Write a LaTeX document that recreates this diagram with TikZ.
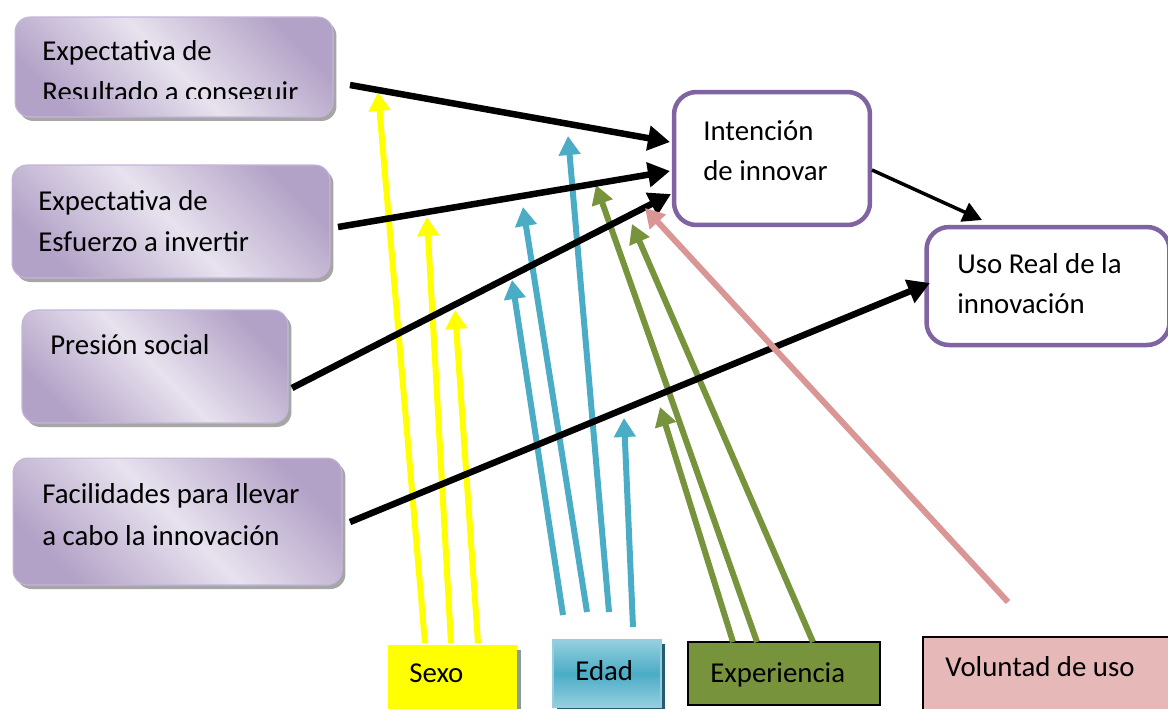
\documentclass[tikz,border=0pt]{standalone}
\usepackage{fontspec}
\setmainfont{Carlito}
\usetikzlibrary{arrows.meta,shadows}
\definecolor{lilaosc}{HTML}{B3A2C7}
\definecolor{lilacla}{HTML}{E7E2EE}
\definecolor{lilaborde}{HTML}{C3B6D8}
\definecolor{morado}{HTML}{8064A2}
\definecolor{azul}{HTML}{4BACC6}
\definecolor{azulcla}{HTML}{95CFDF}
\definecolor{azulosc}{HTML}{245E6E}
\definecolor{verde}{HTML}{77933C}
\definecolor{rosa}{HTML}{D99694}
\definecolor{rosacla}{HTML}{E6B9B8}
\definecolor{amarillo}{HTML}{FFFF00}
\begin{document}
\begin{tikzpicture}[x=0.02cm, y=0.02cm]
\tikzstyle{every node}+=[inner sep=0pt, font=\fontsize{16.4}{20}\selectfont]
\tikzstyle{lilabox}=[rounded corners=0.3cm, draw=lilaborde, line width=0.6pt,
  top color=lilaosc, bottom color=lilaosc, middle color=lilacla, shading angle=-45,
  drop shadow={shadow xshift=0.07cm, shadow yshift=-0.08cm, fill=black!35, opacity=1}]
\tikzstyle{mainbox}=[rounded corners=0.45cm, draw=morado, line width=0.09cm, fill=white]
\tikzstyle{txt}=[anchor=base west]
\tikzstyle{negra}=[line width=0.13cm, -{Triangle[length=0.44cm,width=0.48cm]}]
\tikzstyle{mod}=[line width=0.12cm, -{Triangle[length=0.38cm,width=0.42cm]}]
\useasboundingbox (0,0) rectangle (1168,-708);

% cajas de la izquierda
\node [lilabox, minimum width=6.36cm, minimum height=2.0cm] (res) at (174,-67) {};
\node [lilabox, minimum width=6.36cm, minimum height=2.26cm] (esf) at (171,-221.5) {};
\node [lilabox, minimum width=5.32cm, minimum height=2.26cm] (pre) at (155,-366.5) {};
\node [lilabox, minimum width=6.58cm, minimum height=2.54cm] (fac) at (177.5,-521.5) {};
\begin{scope}
\clip (15,-17) rectangle (333,-98);
\node [txt] (res1) at (42,-60) {Expectativa de};
\node [txt] (res2) at (42,-101) {Resultado a conseguir};
\end{scope}
\node [txt] (esf1) at (38,-210) {Expectativa de};
\node [txt] (esf2) at (38,-251) {Esfuerzo a invertir};
\node [txt] (pre1) at (50,-354) {Presión social};
\node [txt] (fac1) at (42,-503) {Facilidades para llevar};
\node [txt] (fac2) at (42,-545) {a cabo la innovación};

% cajas de la derecha
\node [mainbox, minimum width=3.92cm, minimum height=2.66cm] (int) at (772,-158.5) {};
\node [txt] (int1) at (703,-140) {Intención};
\node [txt] (int2) at (703,-180) {de innovar};
\node [mainbox, minimum width=4.86cm, minimum height=2.36cm] (uso) at (1048,-286) {};
\node [txt] (uso1) at (957,-273) {Uso Real de la};
\node [txt] (uso2) at (957,-313) {innovación};

% moderadores
\node [fill=amarillo, minimum width=2.58cm, minimum height=1.4cm,
  drop shadow={shadow xshift=0.08cm, shadow yshift=-0.1cm, fill=azulosc!45!gray!70, opacity=1}]
  (sexo) at (452.5,-680) {};
\node [draw=azulcla, line width=0.8pt, top color=azulcla, bottom color=azulcla, middle color=azul,
  minimum width=2.16cm, minimum height=1.34cm,
  drop shadow={shadow xshift=0.08cm, shadow yshift=-0.08cm, fill=azulosc, opacity=1}]
  (edad) at (607,-673.5) {};
\node [draw=black, line width=0.04cm, fill=verde, minimum width=3.84cm, minimum height=1.26cm]
  (exp) at (784,-673.5) {};
\node [draw=black, line width=0.04cm, fill=rosacla, minimum width=5.04cm, minimum height=1.6cm]
  (vol) at (1049,-677) {};
\node [txt] (sexo1) at (409,-682) {Sexo};
\node [txt] (edad1) at (575,-680) {Edad};
\node [txt] (exp1) at (710,-682) {Experiencia};
\node [txt] (vol1) at (945,-676) {Voluntad de uso};

% extremos de las flechas
\coordinate (y1) at (425,-643); \coordinate (y1t) at (378,-92);
\coordinate (y2) at (451,-643); \coordinate (y2t) at (427,-217);
\coordinate (y3) at (478,-643); \coordinate (y3t) at (455,-310);
\coordinate (b1) at (563,-615); \coordinate (b1t) at (512,-280);
\coordinate (b2) at (587,-612); \coordinate (b2t) at (523,-207);
\coordinate (b3) at (609,-612); \coordinate (b3t) at (568,-136);
\coordinate (b4) at (633,-627); \coordinate (b4t) at (624,-418);
\coordinate (g1) at (733,-642); \coordinate (g1t) at (660,-407);
\coordinate (g2) at (757,-642); \coordinate (g2t) at (596,-185);
\coordinate (g3) at (813,-642); \coordinate (g3t) at (632,-224);
\coordinate (p1) at (1008,-602); \coordinate (p1t) at (645,-208);
\coordinate (a1) at (350,-85); \coordinate (a1t) at (670,-142);
\coordinate (a2) at (338,-227); \coordinate (a2t) at (670,-171);
\coordinate (a3) at (292,-388); \coordinate (a3t) at (671,-194);
\coordinate (a4) at (350,-522); \coordinate (a4t) at (930,-283);
\coordinate (a5) at (872,-170); \coordinate (a5t) at (982,-220);

% flechas de los moderadores
\draw [mod, amarillo] (y1) -- (y1t);
\draw [mod, amarillo] (y2) -- (y2t);
\draw [mod, amarillo] (y3) -- (y3t);
\draw [mod, azul] (b1) -- (b1t);
\draw [mod, azul] (b2) -- (b2t);
\draw [mod, azul] (b3) -- (b3t);
\draw [mod, azul] (b4) -- (b4t);
\draw [mod, verde] (g1) -- (g1t);
\draw [mod, verde] (g2) -- (g2t);
\draw [mod, verde] (g3) -- (g3t);

% flechas principales
\draw [negra] (a1) -- (a1t);
\draw [negra] (a2) -- (a2t);
\draw [negra] (a3) -- (a3t);
\draw [negra] (a4) -- (a4t);
\draw [line width=0.07cm, -{Triangle[length=0.38cm,width=0.4cm]}] (a5) -- (a5t);
\draw [mod, rosa] (p1) -- (p1t);
\end{tikzpicture}
\end{document}
